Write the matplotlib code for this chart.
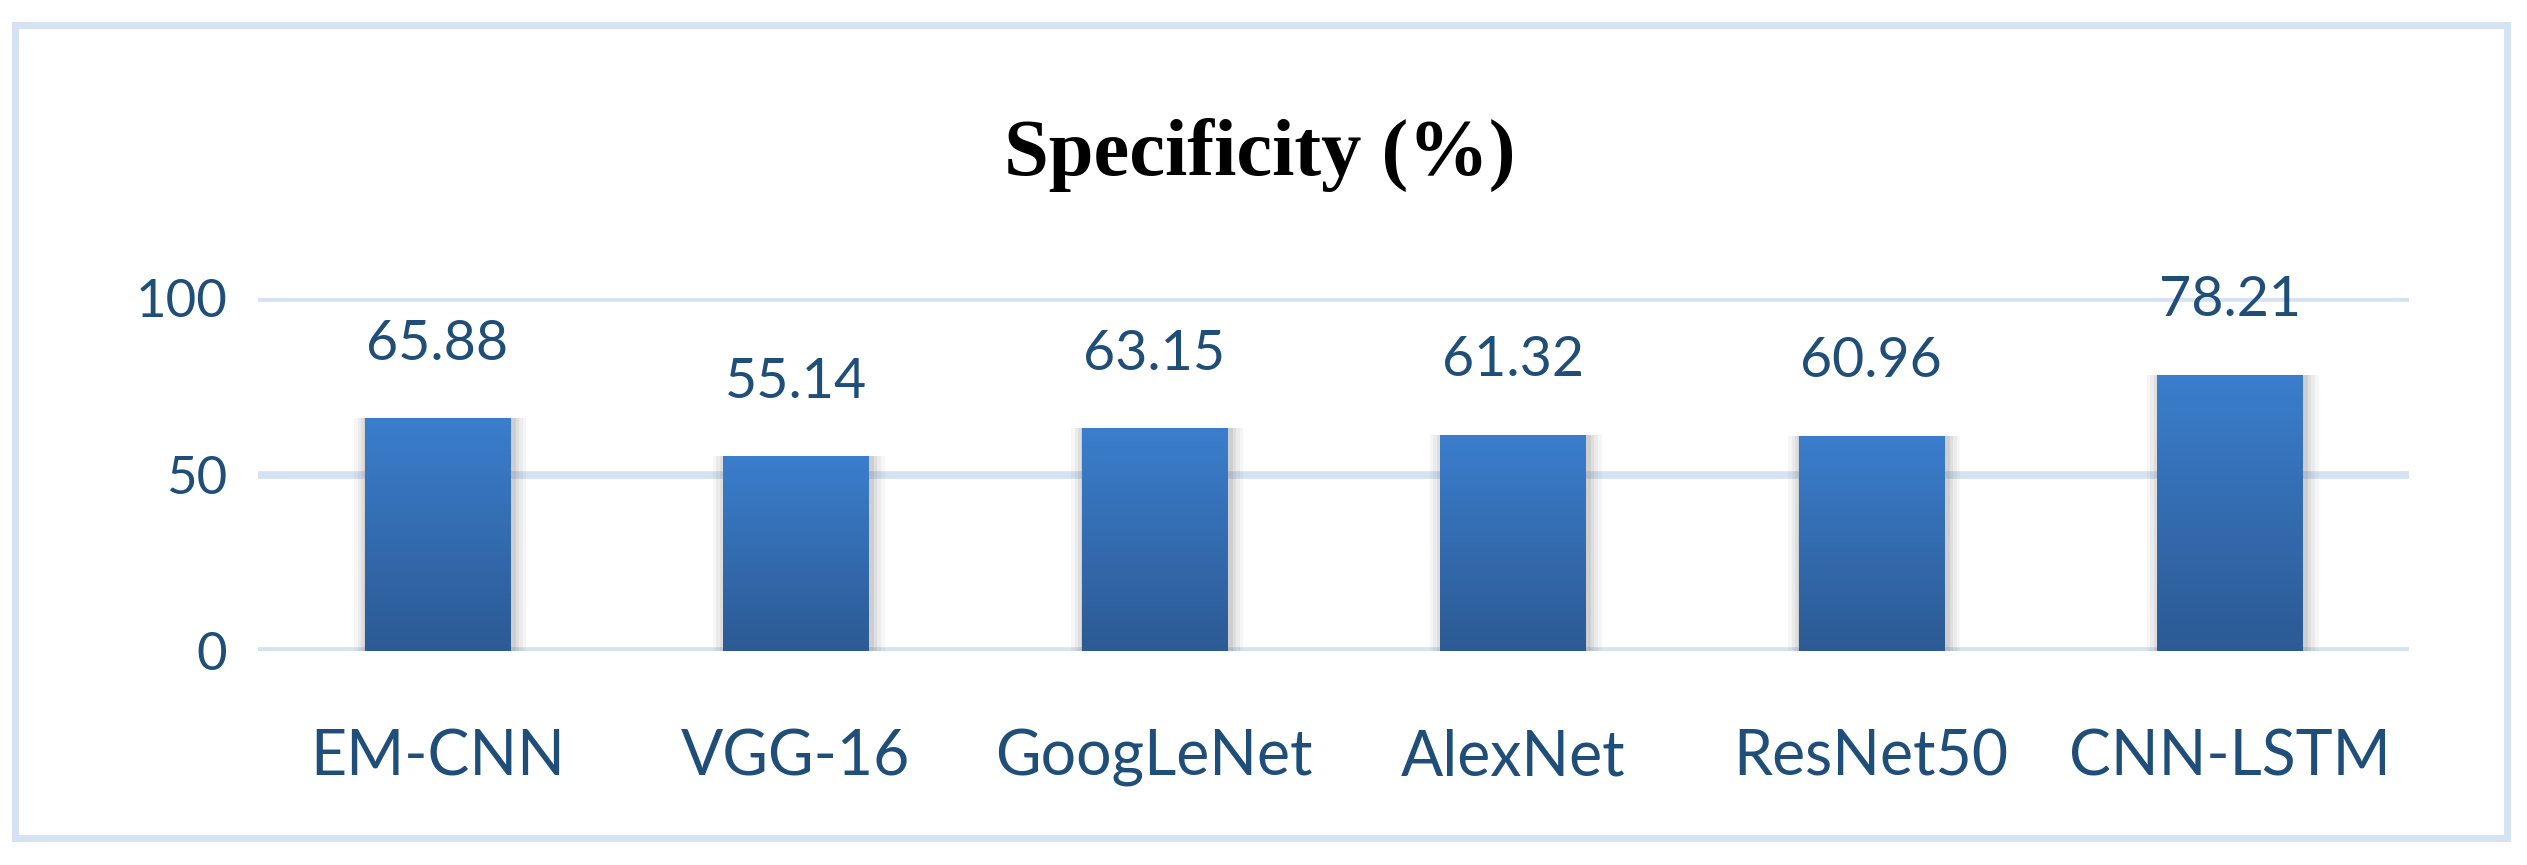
import matplotlib
matplotlib.use("Agg")
import matplotlib.pyplot as plt
import numpy as np
from matplotlib.patches import Rectangle
from matplotlib.colors import LinearSegmentedColormap

# ---- data ----
models = ["EM-CNN", "VGG-16", "GoogLeNet", "AlexNet", "ResNet50", "CNN-LSTM"]
specificity = [65.88, 55.14, 63.15, 61.32, 60.96, 78.21]
yticks = [0, 50, 100]
title = "Specificity (%)"

TXT = "#1F4E79"
GRID = "#D5E2F2"

fig = plt.figure(figsize=(25.27, 8.65), dpi=100)
fig.patch.set_facecolor("white")

# outer light-blue frame
frame = Rectangle((15 / 2527, 1 - 838 / 865), (2507 - 15) / 2527, (838 - 25) / 865,
                  transform=fig.transFigure, fill=False, edgecolor=GRID, linewidth=5,
                  zorder=0)
fig.add_artist(frame)

ax = fig.add_axes([258 / 2527, (865 - 651) / 865, (2409 - 258) / 2527, 353 / 865])
x = np.arange(len(models))
ax.set_xlim(-0.5, len(models) - 0.5)
ax.set_ylim(0, 100)

for s in ax.spines.values():
    s.set_visible(False)
ax.set_yticks(yticks)
ax.yaxis.grid(True, color=GRID, linewidth=5.5, zorder=0)
ax.set_axisbelow(True)
ax.tick_params(axis="both", length=0, labelcolor=TXT)
ax.tick_params(axis="y", pad=22, labelsize=38)
ax.tick_params(axis="x", pad=56, labelsize=45)
ax.set_xticks(x)
ax.set_xticklabels(models)
for lab in ax.get_xticklabels() + ax.get_yticklabels():
    lab.set_fontfamily("Lato")

width = 0.405
# soft shadow
for dw, a in [(0.075, 0.05), (0.055, 0.07), (0.035, 0.09), (0.018, 0.12)]:
    ax.bar(x + 0.008, specificity, width=width + dw, color="#606060", alpha=a,
           zorder=2, linewidth=0)

bars = ax.bar(x, specificity, width=width, color="#3670B5", zorder=3, linewidth=0)

cmap = LinearSegmentedColormap.from_list("g", ["#2C5A94", "#3B7ECD"])
grad = np.linspace(0, 1, 256).reshape(-1, 1)
for b in bars:
    x0 = b.get_x()
    h = b.get_height()
    im = ax.imshow(grad, cmap=cmap, origin="lower", aspect="auto",
                   extent=[x0, x0 + b.get_width(), 0, h], zorder=4)
    im.set_clip_path(b)
ax.set_xlim(-0.5, len(models) - 0.5)
ax.set_ylim(0, 100)

for xi, v in zip(x, specificity):
    ax.annotate(f"{v:.2f}", (xi, v), xytext=(0, 74), textcoords="offset pixels",
                ha="center", va="center", fontsize=40, color=TXT,
                fontfamily="Lato", annotation_clip=False, zorder=5)

fig.text(0.4985, 1 - 155 / 865, title, ha="center", va="center",
         fontsize=58, fontweight="bold", fontfamily="Liberation Serif", color="black")

fig.savefig("out.png", dpi=100, facecolor="white")
